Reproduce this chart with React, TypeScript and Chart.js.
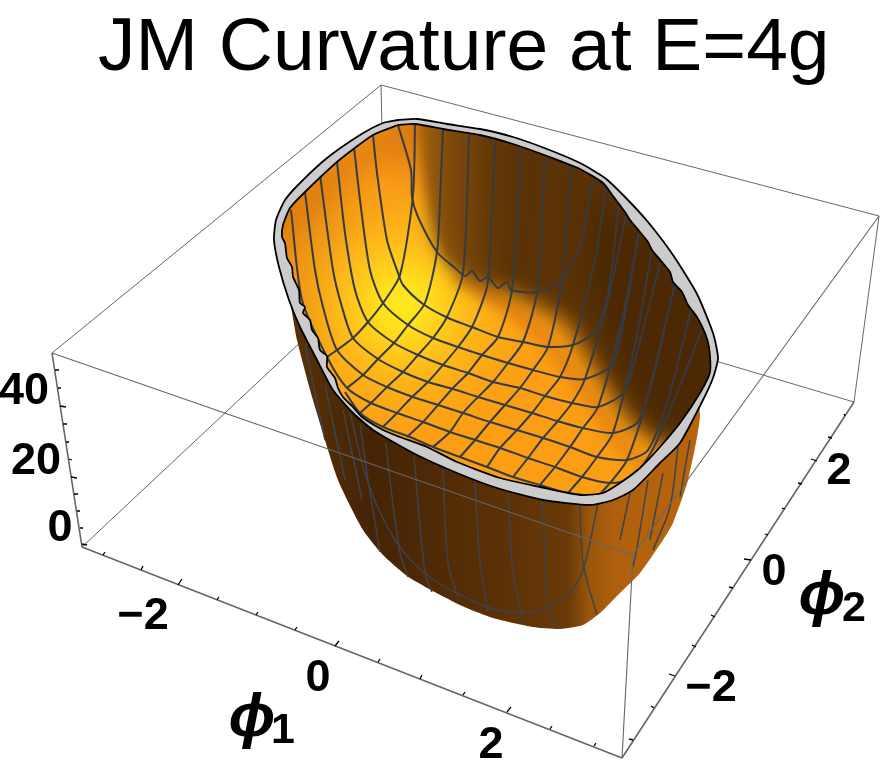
import React, { useEffect, useRef } from "react";
import { Chart, registerables } from "chart.js";

type P = [number, number];

// ---- data (projected picture positions of the 3D box and surface) ----
const titleText = "JM Curvature at E=4g";

const boxBack: P[][] = [
  [[52, 353], [381, 85]],
  [[381, 85], [879, 216]],
  [[381, 85], [385, 263]],
  [[385, 263], [82, 547]],
  [[385, 263], [854, 402]],
  [[854, 402], [879, 216]],
];
const boxFront: P[][] = [
  [[52, 353], [633, 555]],
  [[633, 555], [879, 216]],
  [[622, 758], [633, 555]],
];
const boxAxes: P[][] = [
  [[52, 353], [82, 547]],
  [[82, 547], [622, 758]],
  [[622, 758], [854, 402]],
];

const zTicks: P[][] = [
  [[55, 370], [59, 370]], [[58, 388], [61, 388]], [[60, 406], [66, 407]], [[63, 424], [67, 424]],
  [[66, 442], [69, 442]], [[69, 459], [72, 460]], [[71, 477], [77, 478]], [[74, 494], [78, 494]],
  [[77, 511], [80, 511]], [[80, 528], [83, 528]], [[82, 544], [87, 545]],
];
const phi1Ticks: P[][] = [
  [[103, 555], [105, 552]], [[141, 570], [143, 566]], [[178, 585], [182, 579]], [[217, 600], [219, 597]],
  [[256, 615], [258, 612]], [[295, 630], [297, 627]], [[335, 646], [339, 641]], [[378, 662], [380, 659]],
  [[420, 679], [422, 675]], [[463, 695], [465, 692]], [[507, 712], [511, 707]], [[550, 729], [552, 726]],
  [[594, 746], [596, 743]],
];
const phi2Ticks: P[][] = [
  [[633, 740], [629, 739]], [[654, 708], [651, 706]], [[675, 676], [669, 674]], [[696, 647], [692, 645]],
  [[715, 617], [711, 615]], [[733, 588], [729, 587]], [[751, 560], [744, 559]], [[768, 535], [765, 534]],
  [[785, 509], [782, 508]], [[802, 484], [798, 483]], [[817, 461], [811, 459]], [[832, 438], [828, 437]],
  [[845, 416], [844, 414]],
];

const rimOuter: P[] = [
  [398, 120], [417, 119], [447, 124], [480, 129], [513, 137], [547, 149], [580, 163], [605, 178], [625, 197],
  [648, 222], [673, 255], [697, 294], [713, 333], [718, 358], [713, 378], [702, 402], [680, 443], [660, 463],
  [633, 490], [613, 500], [590, 505], [543, 500], [497, 488], [457, 473], [413, 453], [373, 430], [353, 413],
  [333, 390], [317, 360], [300, 327], [289, 300], [279, 267], [274, 240], [276, 220], [285, 200], [300, 183],
  [327, 158], [360, 135], [383, 123], [398, 120],
];
const rimInner: P[] = [
  [398, 125], [415, 124], [443, 129], [480, 135], [513, 144], [547, 156], [580, 169], [603, 183], [613, 196],
  [625, 212], [630, 220], [640, 232], [648, 242], [652, 250], [662, 262], [670, 272], [673, 282], [682, 292],
  [688, 305], [697, 317], [705, 333], [709, 347], [710, 372], [700, 393], [680, 423], [660, 447], [640, 468],
  [620, 483], [603, 493], [580, 495], [540, 487], [500, 478], [457, 462], [427, 447], [400, 437], [383, 430],
  [362, 417], [353, 407], [343, 397], [338, 388], [335, 378], [327, 367], [327, 356], [320, 350], [318, 338],
  [312, 330], [310, 320], [303, 313], [305, 307], [300, 303], [299, 290], [293, 277], [292, 267], [287, 258],
  [285, 243], [282, 237], [283, 225], [290, 208], [305, 192], [337, 162], [373, 135], [398, 125],
];
const outerWall: P[] = [
  [290, 300], [297, 340], [313, 400], [338, 480], [363, 530], [383, 555], [410, 578], [460, 605], [493, 618],
  [533, 627], [560, 629], [583, 625], [600, 613], [620, 593], [640, 573], [663, 540], [673, 523], [688, 480],
  [700, 415], [690, 380], [500, 440], [330, 340], [290, 300],
];

const leftWallPatch: P[] = [
  [270, 210], [400, 112], [428, 116], [420, 180], [385, 215], [352, 260], [336, 320], [324, 368], [290, 310], [270, 210],
];
const rightWallPatch: P[] = [
  [432, 112], [730, 112], [730, 490], [668, 447], [634, 425], [614, 398], [588, 358], [567, 325], [520, 298],
  [470, 280], [442, 248], [434, 200], [432, 112],
];
const rightWallUpperPatch: P[] = [
  [418, 116], [525, 116], [520, 200], [505, 275], [450, 262], [430, 200], [418, 116],
];
const rightWallDeepPatch: P[] = [
  [590, 190], [720, 290], [720, 400], [665, 430], [620, 370], [590, 290], [590, 190],
];
const wallFootBand: P[] = [
  [455, 275], [500, 303], [545, 340], [592, 402], [625, 450], [650, 470],
];

const rows: P[][] = [
  [[398, 125], [411, 170], [412, 197], [418, 217], [437, 252], [455, 268], [465, 276], [472, 271], [480, 281], [488, 277], [498, 288], [507, 282], [511, 290], [537, 292], [562, 280], [580, 247], [593, 180]],
  [[373, 135], [377, 173], [387, 240], [398, 273], [403, 285], [423, 304], [448, 318], [472, 327], [498, 337], [523, 342], [548, 347], [573, 345], [593, 333], [607, 300], [619, 203]],
  [[354, 147], [360, 200], [370, 270], [383, 303], [408, 325], [433, 338], [458, 347], [482, 355], [508, 363], [533, 370], [560, 377], [585, 379], [612, 365], [622, 330], [639, 233]],
  [[337, 162], [345, 233], [355, 290], [368, 322], [394, 343], [418, 355], [443, 365], [468, 373], [493, 382], [520, 388], [545, 396], [572, 403], [598, 407], [623, 393], [635, 360], [660, 263]],
  [[320, 175], [333, 270], [342, 307], [353, 338], [378, 359], [403, 372], [428, 382], [453, 389], [478, 397], [505, 405], [532, 413], [557, 421], [583, 428], [613, 433], [637, 423], [648, 395], [675, 283]],
  [[305, 192], [315, 270], [323, 307], [337, 350], [363, 375], [387, 387], [413, 397], [438, 405], [463, 413], [490, 422], [517, 430], [543, 438], [570, 447], [597, 457], [627, 460], [648, 450], [668, 400], [691, 310]],
  [[291, 210], [302, 300], [327, 357], [347, 388], [371, 403], [397, 413], [423, 422], [450, 432], [475, 440], [500, 448], [528, 458], [555, 467], [582, 477], [610, 483], [632, 478], [655, 445], [702, 330]],
  [[345, 392], [360, 413], [383, 427], [410, 437], [433, 447], [460, 457], [487, 467], [513, 477], [540, 485], [568, 493], [600, 497]],
];
const columns: P[][] = [
  [[415, 124], [413, 195], [400, 275], [383, 303], [368, 322], [353, 338], [337, 350], [327, 357]],
  [[443, 129], [440, 200], [437, 252], [425, 303], [408, 325], [394, 343], [378, 359], [363, 375], [347, 388]],
  [[469, 135], [463, 273], [447, 317], [433, 338], [418, 355], [403, 372], [387, 387], [371, 403], [360, 413]],
  [[495, 142], [490, 250], [487, 287], [472, 327], [458, 347], [443, 365], [428, 382], [412, 397], [397, 413], [383, 427]],
  [[521, 148], [512, 290], [498, 337], [482, 355], [468, 373], [453, 388], [438, 405], [423, 422], [407, 437]],
  [[545, 157], [537, 292], [523, 342], [508, 363], [493, 382], [478, 397], [463, 413], [450, 432], [433, 447]],
  [[571, 166], [562, 280], [548, 347], [533, 370], [520, 388], [505, 405], [490, 422], [475, 440], [460, 457]],
  [[606, 187], [595, 260], [573, 345], [560, 377], [545, 396], [532, 413], [517, 430], [500, 448], [487, 467]],
  [[626, 215], [608, 300], [585, 379], [572, 403], [557, 422], [543, 438], [528, 458], [513, 477]],
  [[639, 233], [622, 320], [598, 407], [583, 428], [570, 447], [555, 467], [540, 485]],
  [[652, 250], [636, 340], [613, 433], [597, 457], [582, 477], [568, 493]],
  [[675, 283], [650, 390], [627, 460], [610, 483], [597, 497]],
];
const outerGrid: P[][] = [
  [[360, 423], [368, 480], [380, 552]],
  [[386, 443], [390, 480], [400, 553], [408, 577]],
  [[414, 457], [425, 573], [432, 592]],
  [[443, 470], [448, 563], [458, 597]],
  [[475, 482], [480, 563], [488, 612]],
  [[508, 493], [513, 573], [523, 620]],
  [[543, 500], [548, 607], [558, 628]],
  [[580, 505], [583, 563], [597, 615]],
  [[598, 503], [583, 570], [567, 595], [533, 612], [487, 607], [427, 575], [395, 540], [367, 480], [350, 412]],
  [[630, 493], [620, 540]],
  [[648, 480], [637, 548], [633, 567]],
  [[663, 473], [650, 540]],
  [[678, 447], [670, 507], [653, 550]],
  [[690, 440], [680, 497]],
  [[305, 345], [325, 440]],
  [[325, 385], [345, 480]],
  [[343, 410], [362, 500]],
];

const tickLabels = ["40", "20", "0", "\u22122", "0", "2", "\u22122", "0", "2"];
const tickLabelAt: P[] = [
  [24, 392], [36, 462], [60, 529], [143, 617], [318, 679], [491, 746], [711, 689], [774, 573], [839, 472],
];
const axisSymbol = "\u03D5";
const axisSymbolAt: P[] = [[252, 719], [822, 597]];
const axisSubs = ["1", "2"];
const axisSubAt: P[] = [[283, 731], [854, 609]];

// ---- helpers ----
const pts = (a: P[]) => a.map(([x, y]) => ({ x, y }));
const segs = (list: P[][]) => list.flatMap((s) => [...pts(s), { x: NaN, y: NaN }]);

const base = { showLine: true, pointRadius: 0, pointHoverRadius: 0, clip: false as const };
const area = (data: P[], backgroundColor: any, extra: any = {}) => ({
  ...base, data: pts(data), fill: "shape", backgroundColor, borderColor: "transparent", borderWidth: 0, tension: 0.2, ...extra,
});
const lines = (list: P[][], borderColor: string, borderWidth: number, extra: any = {}) => ({
  ...base, data: segs(list), fill: false, backgroundColor: "transparent", borderColor, borderWidth, ...extra,
});

// Clip (to the bowl's inner outline) and soft-edge support, wrapped round each dataset draw.
const layerPlugin = {
  id: "surfaceLayers",
  beforeDatasetDraw(chart: any, args: any) {
    const ds = chart.data.datasets[args.index];
    if (!ds.softClip && !ds.blur) return;
    const ctx = chart.ctx;
    ctx.save();
    if (ds.softClip) {
      const idx = chart.data.datasets.findIndex((d: any) => d.isBowl);
      const line = chart.getDatasetMeta(idx).dataset;
      line.updateControlPoints(chart.chartArea, "x");
      ctx.beginPath();
      line.path(ctx);
      ctx.closePath();
      ctx.clip();
    }
    if (ds.blur) ctx.filter = `blur(${ds.blur}px)`;
  },
  afterDatasetDraw(chart: any, args: any) {
    const ds = chart.data.datasets[args.index];
    if (ds.softClip || ds.blur) chart.ctx.restore();
  },
};
const labelPlugin = {
  id: "plotLabels",
  afterDatasetsDraw(chart: any) {
    const { ctx, scales } = chart;
    const put = (t: string, p: P, font: string) => {
      ctx.font = font;
      ctx.fillText(t, scales.x.getPixelForValue(p[0]), scales.y.getPixelForValue(p[1]));
    };
    ctx.save();
    ctx.fillStyle = "#000";
    ctx.textAlign = "center";
    ctx.textBaseline = "middle";
    const tickFont = 'bold 45px "Liberation Sans"';
    tickLabels.forEach((t, i) => put(t, tickLabelAt[i], tickFont));
    axisSymbolAt.forEach((p) => put(axisSymbol, p, 'italic bold 62px "Liberation Sans"'));
    axisSubs.forEach((t, i) => put(t, axisSubAt[i], 'bold 43px "Liberation Sans"'));
    ctx.restore();
  },
};

Chart.register(layerPlugin);
Chart.register(...registerables);

export default function App() {
  const ref = useRef<HTMLCanvasElement>(null);
  useEffect(() => {
    const canvas = ref.current!;
    const c = canvas.getContext("2d")!;

    const wallGrad = c.createLinearGradient(290, 0, 700, 0);
    wallGrad.addColorStop(0, "#5a3107");
    wallGrad.addColorStop(0.2, "#452405");
    wallGrad.addColorStop(0.5, "#5a3006");
    wallGrad.addColorStop(0.68, "#6b3a07");
    wallGrad.addColorStop(0.73, "#9a560c");
    wallGrad.addColorStop(0.8, "#b0600d");
    wallGrad.addColorStop(1, "#b8650c");

    const glow = c.createRadialGradient(403, 305, 0, 403, 305, 150);
    glow.addColorStop(0, "#ffea1e");
    glow.addColorStop(0.16, "#ffdf1d");
    glow.addColorStop(0.42, "rgba(254,190,26,0.95)");
    glow.addColorStop(0.75, "rgba(252,170,22,0.55)");
    glow.addColorStop(1, "rgba(251,158,20,0)");

    const midWall = c.createRadialGradient(385, 190, 0, 385, 190, 65);
    midWall.addColorStop(0, "rgba(250,150,24,0.95)");
    midWall.addColorStop(1, "rgba(250,150,24,0)");

    const upperWall = c.createLinearGradient(420, 0, 525, 0);
    upperWall.addColorStop(0, "rgba(150,90,14,0.85)");
    upperWall.addColorStop(0.4, "rgba(126,74,11,0.8)");
    upperWall.addColorStop(1, "rgba(100,57,8,0)");

    const painted: any[] = [
      lines(boxBack, "#666", 1),
      area(outerWall, wallGrad),
      lines(outerGrid, "#3c434c", 1.5, { tension: 0.3 }),
      area(rimOuter, "#cccccc", { borderColor: "#000", borderWidth: 1.8 }),
      area(rimInner, "#fb9e14", { isBowl: true }),
      area(leftWallPatch, "#d9790f", { softClip: true, blur: 12 }),
      area(rimInner, midWall, { softClip: true }),
      area(rimInner, glow, { softClip: true }),
      lines([wallFootBand], "#e98512", 12, { softClip: true, blur: 6, tension: 0.3 }),
      area(rightWallPatch, "#5b3206", { softClip: true, blur: 11 }),
      area(rightWallUpperPatch, upperWall, { softClip: true, blur: 6 }),
      area(rightWallDeepPatch, "#4c2904", { softClip: true, blur: 12 }),
      lines(rows, "#363b42", 2, { softClip: true, tension: 0.25 }),
      lines(columns, "#363b42", 2, { softClip: true, tension: 0.25 }),
      area(rimInner, "transparent", { borderColor: "#000", borderWidth: 1.8, fill: false }),
      lines(boxFront, "#666", 1.1),
      lines(boxAxes, "#666", 1.6),
      lines([...zTicks, ...phi1Ticks, ...phi2Ticks], "#000", 1.3),
    ];

    const chart = new Chart(canvas, {
      type: "scatter",
      // Chart.js paints the first dataset last, so the painter's list is reversed.
      data: { datasets: [...painted].reverse() },
      options: {
        animation: false,
        responsive: false,
        events: [],
        layout: { padding: { left: 98 } },
        scales: {
          x: { type: "linear", min: 98, max: 881, display: false },
          y: { type: "linear", min: 84, max: 773, reverse: true, display: false },
        },
        plugins: {
          legend: { display: false },
          tooltip: { enabled: false },
          filler: { propagate: false, drawTime: "beforeDatasetDraw" },
          title: {
            display: true,
            text: titleText,
            align: "start",
            color: "#000",
            padding: { top: 9, bottom: -5 },
            font: { family: '"Liberation Sans"', size: 75, weight: "normal", lineHeight: "80px" },
          },
        },
      } as any,
      plugins: [labelPlugin],
    } as any);
    return () => chart.destroy();
  }, []);
  return (
    <div style={{ position: "fixed", left: 0, top: 0, width: 881, height: 773, background: "#fff" }}>
      <canvas ref={ref} width={881} height={773} style={{ display: "block" }} />
    </div>
  );
}
